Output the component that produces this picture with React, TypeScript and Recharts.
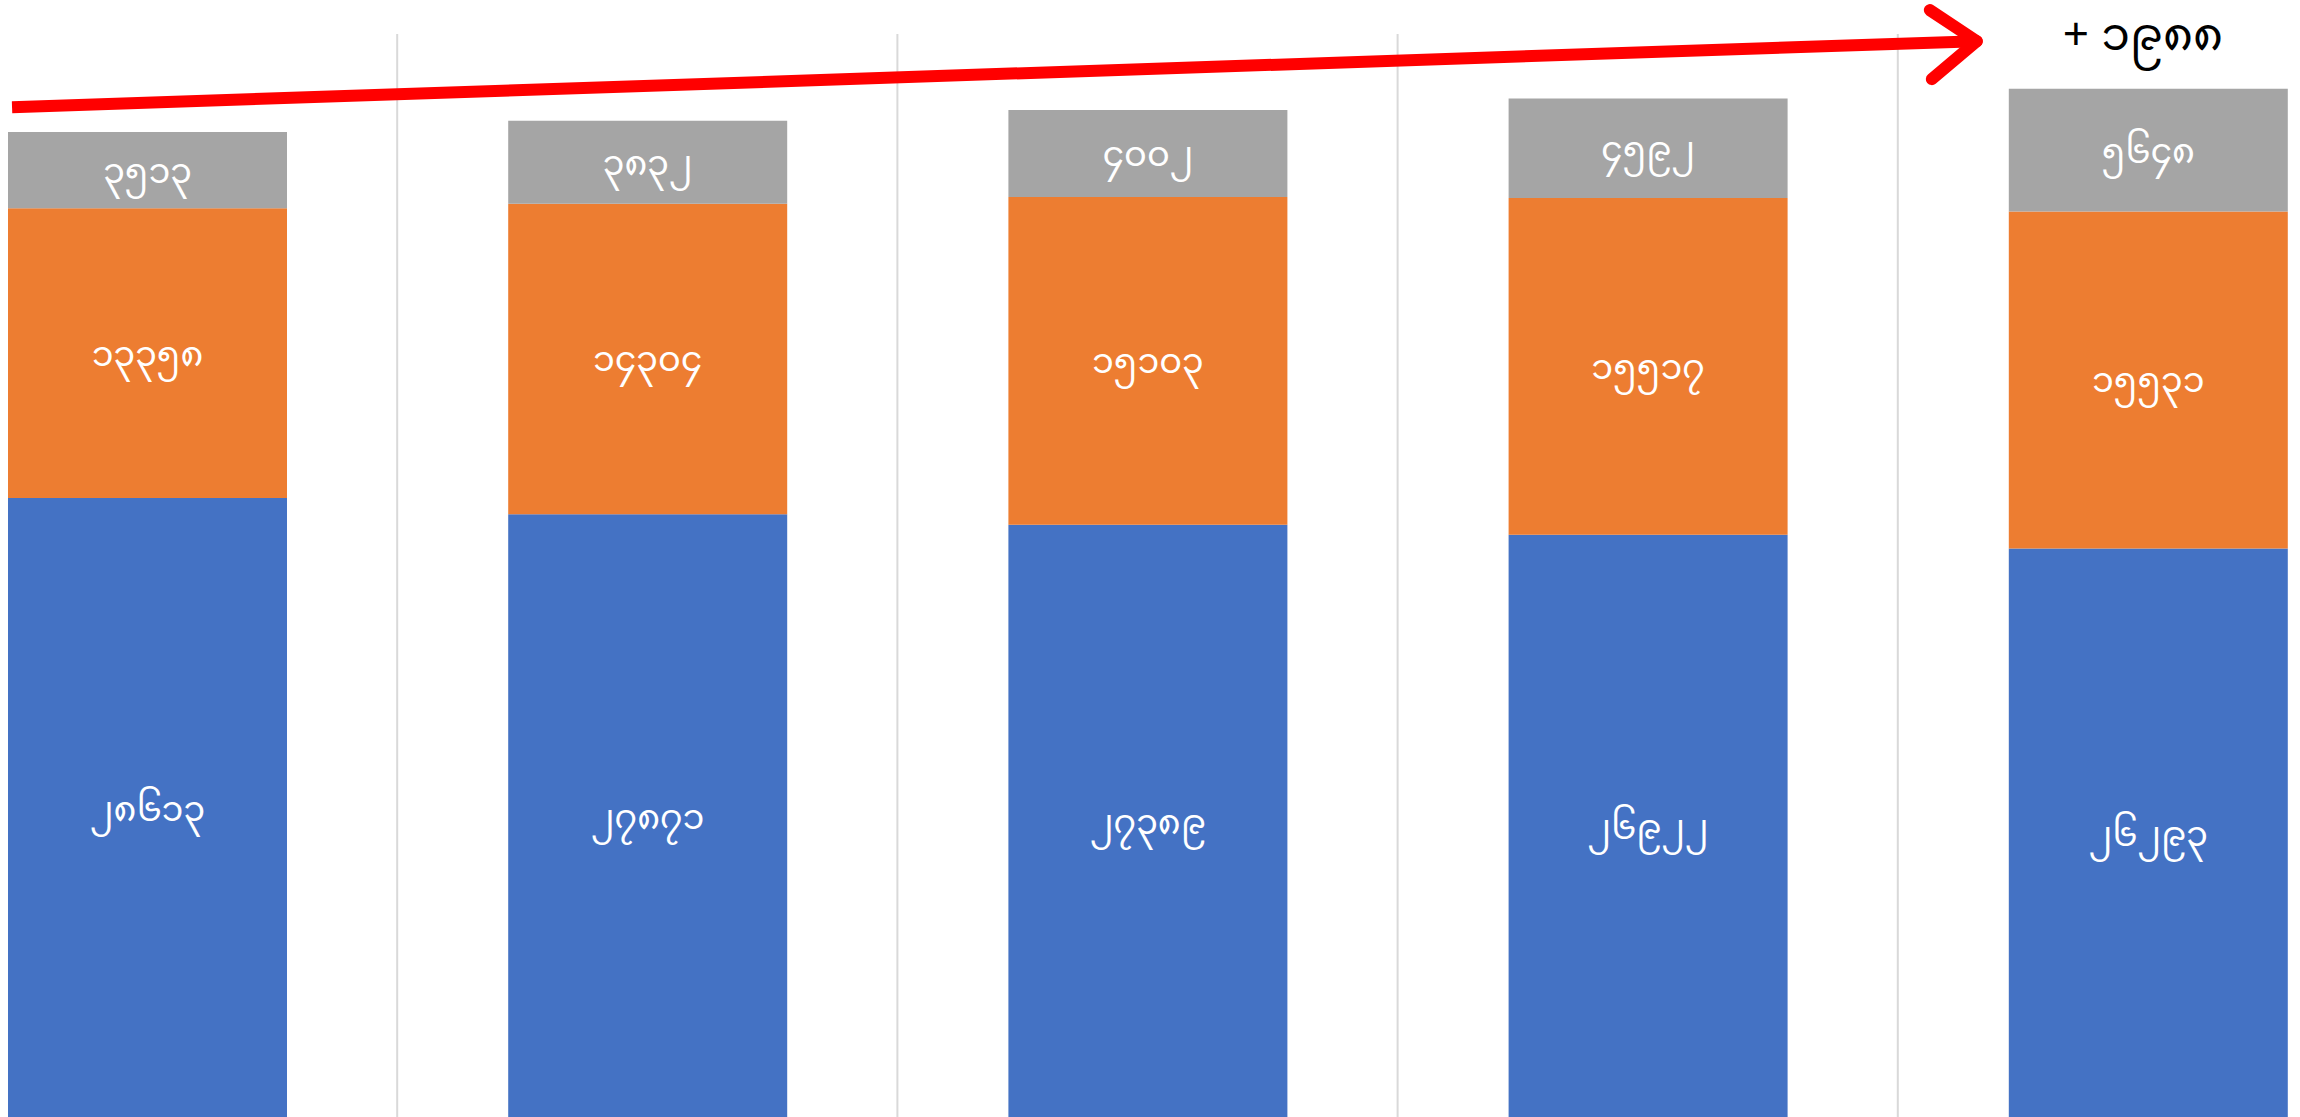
import { Bar, BarChart, LabelList, ReferenceDot, ReferenceLine, XAxis, YAxis } from "recharts"

// values, bottom segment first
const periods = ["၁", "၂", "၃", "၄", "၅"]
const blueValues = [28613, 27871, 27389, 26922, 26293]
const orangeValues = [13358, 14304, 15103, 15517, 15531]
const grayValues = [3513, 3832, 4002, 4592, 5648]

// category boundaries on a 0..5 helper axis
const gridBoundaries = [1, 2, 3, 4]

// red trend arrow, in (helper axis, value) units
const arrowShaft = [
  { x: 0.23, y: 46630 },
  { x: 4.158, y: 49670 },
]
const arrowArmTop = [
  { x: 4.064, y: 51100 },
  { x: 4.158, y: 49670 },
]
const arrowArmBottom = [
  { x: 4.068, y: 47920 },
  { x: 4.158, y: 49670 },
]

const data = periods.map((period, i) => ({
  period,
  slot: i + 0.5,
  blue: blueValues[i],
  orange: orangeValues[i],
  gray: grayValues[i],
}))

const toMyanmar = (v: number | string) => String(v).replace(/\d/g, (d) => String.fromCharCode(0x1040 + Number(d)))

const totals = data.map((d) => d.blue + d.orange + d.gray)
const growthLabel = "+ " + toMyanmar(totals[totals.length - 1] - totals[0])

const font = "'Noto Sans Myanmar', Padauk, 'Noto Sans', 'DejaVu Sans', sans-serif"

export default function App() {
  return (
    <div
      style={{
        position: "absolute",
        left: 0,
        top: 0,
        width: 2300,
        height: 1117,
        overflow: "hidden",
        background: "#fff",
      }}
    >
      <div style={{ position: "absolute", left: -103, top: 0 }}>
        <BarChart width={2501} height={1119} data={data} margin={{ top: 34, right: 0, bottom: 0, left: 0 }}>
          <XAxis dataKey="period" hide />
          <XAxis xAxisId="grid" dataKey="slot" type="number" domain={[0, 5]} hide allowDataOverflow />
          <YAxis hide domain={[0, 50000]} allowDataOverflow />

          {gridBoundaries.map((b) => (
            <ReferenceLine key={b} xAxisId="grid" x={b} stroke="#d9d9d9" strokeWidth={2} />
          ))}

          <Bar dataKey="blue" stackId="a" fill="#4472C4" barSize={279} isAnimationActive={false}>
            <LabelList dataKey="blue" position="center" fill="#fff" fontSize={35} fontFamily={font} formatter={toMyanmar} />
          </Bar>
          <Bar dataKey="orange" stackId="a" fill="#ED7D31" barSize={279} isAnimationActive={false}>
            <LabelList dataKey="orange" position="center" fill="#fff" fontSize={35} fontFamily={font} formatter={toMyanmar} />
          </Bar>
          <Bar dataKey="gray" stackId="a" fill="#A5A5A5" barSize={279} isAnimationActive={false}>
            <LabelList dataKey="gray" position="center" fill="#fff" fontSize={35} fontFamily={font} formatter={toMyanmar} />
          </Bar>

          <ReferenceLine xAxisId="grid" segment={arrowShaft} stroke="#ff0000" strokeWidth={12} ifOverflow="visible" />
          <ReferenceLine
            xAxisId="grid"
            segment={arrowArmTop}
            stroke="#ff0000"
            strokeWidth={12}
            strokeLinecap="round"
            ifOverflow="visible"
          />
          <ReferenceLine
            xAxisId="grid"
            segment={arrowArmBottom}
            stroke="#ff0000"
            strokeWidth={12}
            strokeLinecap="round"
            ifOverflow="visible"
          />

          <ReferenceDot
            xAxisId="grid"
            x={4.49}
            y={50000}
            r={0}
            ifOverflow="visible"
            label={{ value: growthLabel, position: "center", fill: "#000", fontSize: 46, fontFamily: font }}
          />
        </BarChart>
      </div>
    </div>
  )
}
